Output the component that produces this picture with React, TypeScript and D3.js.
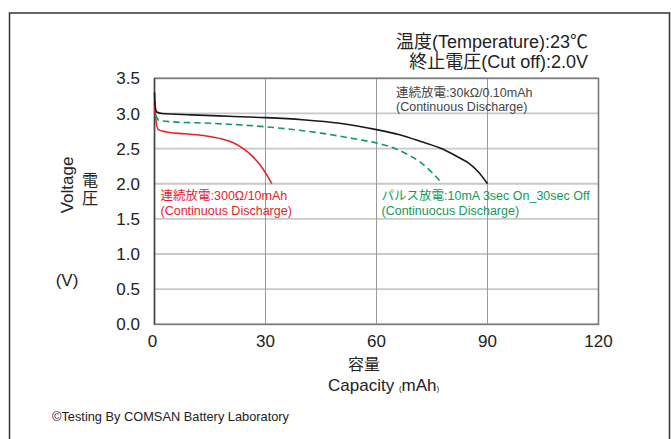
import React from "react";
import * as d3 from "d3";

const xTicks = [0, 30, 60, 90, 120];
const yTicks = [0, 0.5, 1.0, 1.5, 2.0, 2.5, 3.0, 3.5];

const blackCap = [0, 0.2, 0.6, 2, 10, 20, 30, 40, 50, 60, 66, 72, 78, 82, 85, 87.5, 90];
const blackV = [3.30, 3.10, 3.02, 3.00, 2.98, 2.96, 2.94, 2.91, 2.86, 2.77, 2.70, 2.60, 2.49, 2.38, 2.29, 2.17, 2.00];

const greenCap = [0.3, 1.2, 5, 15, 30, 45, 55, 60, 65, 69, 72, 75, 77.8];
const greenV = [2.98, 2.90, 2.88, 2.86, 2.81, 2.72, 2.63, 2.58, 2.50, 2.40, 2.30, 2.16, 2.00];

const redCap = [0, 0.3, 1, 3, 8, 14, 18, 21, 24, 26.5, 28.5, 30.3, 31.7];
const redV = [3.17, 2.95, 2.77, 2.74, 2.71, 2.68, 2.64, 2.59, 2.50, 2.39, 2.27, 2.13, 2.00];

const FONT = '"Liberation Sans", Arial, "Noto Sans CJK JP", sans-serif';

export default function App() {
  const x = d3.scaleLinear().domain([0, 120]).range([154.5, 598.5]);
  const y = d3.scaleLinear().domain([0, 3.5]).range([324.3, 78.3]);
  const line = d3
    .line<[number, number]>()
    .x((d) => x(d[0]))
    .y((d) => y(d[1]))
    .curve(d3.curveMonotoneX);
  const pts = (c: number[], v: number[]) => c.map((cc, i) => [cc, v[i]] as [number, number]);

  return (
    <svg
      width={671}
      height={439}
      style={{ position: "absolute", left: 0, top: 0, background: "#fff" }}
      fontFamily={FONT}
    >
      <rect x={9.5} y={13} width={660} height={440} fill="#fff" stroke="#333" strokeWidth={1.5} />

      {/* horizontal gridlines */}
      {yTicks.map((t) => (
        <line key={"h" + t} x1={x(0)} x2={x(120)} y1={y(t)} y2={y(t)} stroke="#c8c8c8" strokeWidth={1.8} />
      ))}
      {/* vertical gridlines */}
      {xTicks.map((t) => (
        <line key={"v" + t} x1={x(t)} x2={x(t)} y1={y(3.5)} y2={y(0)} stroke="#9a9a9a" strokeWidth={1} />
      ))}
      <rect x={x(0)} y={y(3.5)} width={x(120) - x(0)} height={y(0) - y(3.5)} fill="none" stroke="#7a7a7a" strokeWidth={1.6} />
      <line x1={x(0)} x2={x(0)} y1={y(3.5)} y2={y(0)} stroke="#444" strokeWidth={1.4} />

      {/* y tick labels */}
      {yTicks.map((t) => (
        <text key={"yl" + t} x={140} y={y(t)} dy="0.36em" textAnchor="end" fontSize={17} fill="#222">
          {d3.format(".1f")(t)}
        </text>
      ))}
      {/* x tick labels */}
      {xTicks.map((t) => (
        <text key={"xl" + t} x={x(t) - (t === 0 ? 2 : 0)} y={346.5} textAnchor="middle" fontSize={17} fill="#222">
          {t}
        </text>
      ))}

      {/* curves */}
      <path d={line(pts(redCap, redV)) || ""} fill="none" stroke="#e3232b" strokeWidth={1.6} />
      <path d={line(pts(greenCap, greenV)) || ""} fill="none" stroke="#13995a" strokeWidth={1.6} strokeDasharray="6.5,4" />
      <path d={line(pts(blackCap, blackV)) || ""} fill="none" stroke="#1a1a1a" strokeWidth={1.6} />

      {/* titles */}
      <text x={588} y={48} textAnchor="end" fontSize={18} fill="#222">温度(Temperature):23℃</text>
      <text x={588} y={68} textAnchor="end" fontSize={18} fill="#222">終止電圧(Cut off):2.0V</text>

      {/* annotations */}
      <text x={396} y={97} fontSize={12.5} fill="#444">連続放電:30kΩ/0.10mAh</text>
      <text x={396} y={111} fontSize={12.5} fill="#444">(Continuous Discharge)</text>

      <text x={160.5} y={199.5} fontSize={12.5} fill="#e3232b">連続放電:300Ω/10mAh</text>
      <text x={160.5} y={214.5} fontSize={12.5} fill="#e3232b">(Continuous Discharge)</text>

      <text x={381.5} y={199.5} fontSize={12.5} fill="#13995a">パルス放電:10mA 3sec On_30sec Off</text>
      <text x={381.5} y={214.5} fontSize={12.5} fill="#13995a">(Continuocus Discharge)</text>

      {/* axis titles */}
      <text transform="translate(73,185) rotate(-90)" textAnchor="middle" fontSize={17} fill="#222">Voltage</text>
      <text x={90} y={186} textAnchor="middle" fontSize={16} fill="#222">電</text>
      <text x={90} y={204} textAnchor="middle" fontSize={16} fill="#222">圧</text>
      <text x={67} y={286} textAnchor="middle" fontSize={17} fill="#222">(V)</text>

      <text x={364} y={370} textAnchor="middle" fontSize={16} fill="#222">容量</text>
      <text x={328} y={391} fontSize={17} fill="#222">
        Capacity <tspan fontSize={8}>(</tspan>mAh<tspan fontSize={8}>)</tspan>
      </text>

      <text x={52} y={421} fontSize={12.8} fill="#222">©Testing By COMSAN Battery Laboratory</text>
    </svg>
  );
}
